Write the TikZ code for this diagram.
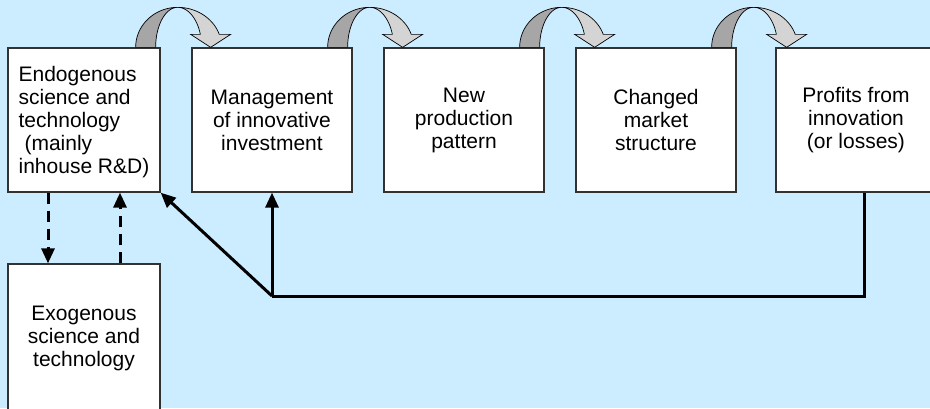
\documentclass[tikz,border=0pt]{standalone}
\usepackage{fontspec}
\setmainfont{Liberation Sans}
\usetikzlibrary{arrows.meta}
\definecolor{bgblue}{RGB}{204,236,255}
\definecolor{turndark}{RGB}{166,166,166}
\definecolor{turnlight}{RGB}{212,212,212}
\definecolor{boxedge}{RGB}{50,50,50}
\tikzset{
  box/.style={draw=boxedge, line width=1.3pt, fill=white, minimum height=144pt,
    inner sep=0pt, align=center, font=\fontsize{21}{23}\selectfont},
  link/.style={line width=3pt, black, line join=miter},
  tip/.style={-{Triangle[length=15pt,width=13pt]}},
  dashlink/.style={link, dash pattern=on 11pt off 7pt},
  turn/.pic={
    % back half of the curved arrow
    \fill[turndark, draw=black, line width=0.7pt]
      plot[domain=180:90, samples=40] ({42*cos(\x)}, {-40*sin(\x)}) --
      plot[domain=90:180, samples=40] ({22*cos(\x)}, {-40*sin(\x)}) -- cycle;
    % front half with the head
    \fill[turnlight, draw=black, line width=0.7pt]
      plot[domain=90:18.97, samples=40] ({44*cos(\x)}, {-40*sin(\x)}) --
      (53,-13) -- (33,0) -- (13,-13) --
      plot[domain=18.97:90, samples=40] ({24*cos(\x)}, {-40*sin(\x)}) -- cycle;
  }
}
% text block set lower inside its box while keeping the box size
\newcommand{\lowered}[2]{\raisebox{-#1}[\height][\depth]{#2}}
\begin{document}
\begin{tikzpicture}[x=1pt, y=-1pt]
  \clip (0,0) rectangle (930,408);
  \fill[bgblue] (0,0) rectangle (930,408);

  % main chain of boxes
  \node[box, minimum width=152pt] (b1) at (84,120)
    {\lowered{2.5pt}{\begin{tabular}{@{}l@{}}Endogenous\\science and\\technology\\
     \hspace*{0.28em}(mainly\\inhouse R\&D)\end{tabular}}};
  \node[box, minimum width=160pt] (b2) at (272,120) {Management\\of innovative\\investment};
  \node[box, minimum width=160pt] (b3) at (464,120) {New\\production\\pattern};
  \node[box, minimum width=160pt] (b4) at (656,120) {Changed\\market\\structure};
  \node[box, minimum width=160pt] (b5) at (856,120) {Profits from\\innovation\\(or losses)};
  \node[box, minimum width=152pt, minimum height=148pt] (b6) at (84,338)
    {Exogenous\\science and\\technology};

  % curved arrows between neighbouring boxes
  \pic at ([xshift=17pt]b1.north east) {turn};
  \pic at ([xshift=17pt]b2.north east) {turn};
  \pic at ([xshift=17pt]b3.north east) {turn};
  \pic at ([xshift=17pt]b4.north east) {turn};

  % exchange with exogenous science
  \draw[dashlink, tip] ([xshift=-36pt]b1.south) -- ([xshift=-36pt]b1.south |- b6.north);
  \draw[dashlink, tip] ([xshift=36pt]b1.south |- b6.north) -- ([xshift=36pt]b1.south);

  % feedback from profits
  \coordinate (j) at (b2.south |- 0,296);
  \draw[link] ([xshift=8pt]b5.south) -- ([xshift=8pt]b5.south |- j) -- (j);
  \draw[link, tip] (j) -- (b2.south);
  \draw[link, tip] (j) -- (b1.south east);
\end{tikzpicture}
\end{document}
